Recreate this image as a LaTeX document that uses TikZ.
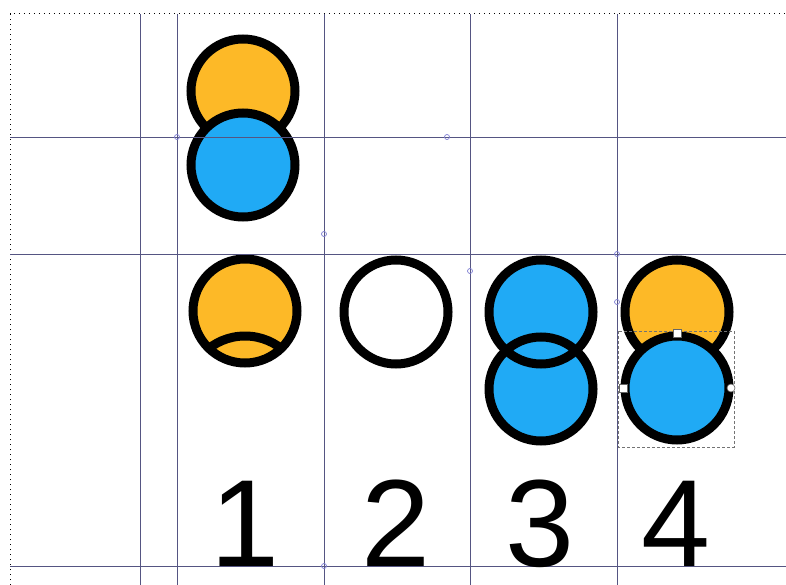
\documentclass[tikz,border=0pt]{standalone}
\usepackage{fontspec}
\setmainfont{Liberation Sans}
\usepackage{tikz}
\usetikzlibrary{positioning}
\definecolor{ylw}{RGB}{253,185,39}
\definecolor{blu}{RGB}{32,170,245}
\definecolor{guide}{RGB}{85,85,130}
\definecolor{gmarkc}{RGB}{125,125,210}

\begin{document}
\begin{tikzpicture}[x=1pt, y=-1pt,
    guideline/.style={guide, line width=0.9pt},
    disc/.style={line width=9pt},
    digit/.style={font=\fontsize{124}{124}\selectfont, inner sep=0pt, anchor=base},
    handle/.style={draw=black!60, fill=white, line width=0.6pt, inner sep=0pt, minimum size=8pt},
    gmark/.style={draw=gmarkc, line width=0.7pt}
]
    \useasboundingbox (0,0) rectangle (786,585);
    \fill[white] (0,0) rectangle (786,585);

    % column 1, top pair
    \filldraw[disc, fill=ylw] (243,91) circle (52);
    \filldraw[disc, fill=blu] (243,165) circle (52);

    % row 2
    \filldraw[disc, fill=ylw] (245,311) circle (52);
    \begin{scope}
        \clip (245,311) circle (52);
        \draw[disc] (245,395) circle (59);
    \end{scope}
    \draw[disc, fill=white] (396,312) circle (52);
    \fill[blu] (541,312) circle (52);
    \fill[blu] (541,389) circle (52);
    \draw[disc] (541,312) circle (52) (541,389) circle (52);
    \filldraw[disc, fill=ylw] (677,312) circle (52);
    \filldraw[disc, fill=blu] (677,388) circle (52);

    % page border and guides
    \draw[line width=1pt, dash pattern=on 1.2pt off 3.8pt] (10,585) -- (10,14) -- (786,14);
    \foreach \gx in {140,177,324,470,617}
        \draw[guideline] (\gx,14) -- (\gx,585);
    \foreach \gy in {137,254,566}
        \draw[guideline] (10,\gy) -- (786,\gy);
    \foreach \mx/\my in {177/137,447/137,324/234,470/271,617/254,617/302,324/566}
        \draw[gmark] (\mx,\my) circle (2.5);

    % selection
    \draw[black!55, line width=0.8pt, dash pattern=on 3pt off 2pt] (618,331) rectangle (734,447);
    \node[handle] (hT) at (677,333) {};
    \node[handle] (hL) at (623,388) {};
    \node[handle, circle] (hR) at (731,388) {};

    % labels
    \node[digit] (n1) at (245,566) {1};
    \node[digit] (n2) at (396,566) {2};
    \node[digit] (n3) at (540,566) {3};
    \node[digit] (n4) at (676,566) {4};
\end{tikzpicture}
\end{document}
